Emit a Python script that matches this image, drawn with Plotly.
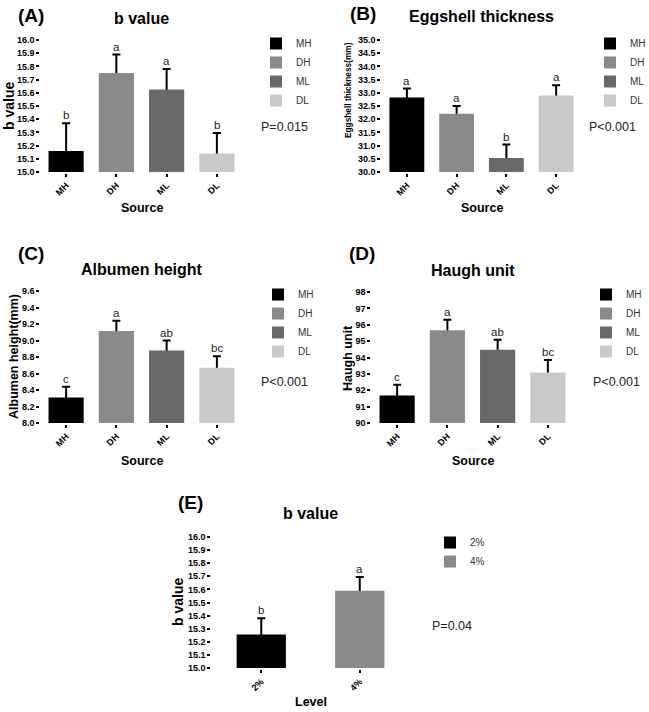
import plotly.graph_objects as go

W, H = 649, 712
FONT = "Liberation Sans, Arial, sans-serif"

# ---------------- data ----------------
sources = ["MH", "DH", "ML", "DL"]
source_colors = ["#000000", "#8a8a8a", "#686868", "#c9c9c9"]

b_value_mean = [15.16, 15.75, 15.625, 15.14]
b_value_err = [0.21, 0.14, 0.155, 0.155]
b_value_letters = ["b", "a", "a", "b"]

shell_mean = [32.82, 32.21, 30.53, 32.9]
shell_err = [0.34, 0.29, 0.51, 0.39]
shell_letters = ["a", "a", "b", "a"]

albumen_mean = [8.31, 9.115, 8.88, 8.67]
albumen_err = [0.13, 0.125, 0.12, 0.14]
albumen_letters = ["c", "a", "ab", "bc"]

haugh_mean = [91.68, 95.66, 94.47, 93.08]
haugh_err = [0.66, 0.65, 0.62, 0.77]
haugh_letters = ["c", "a", "ab", "bc"]

levels = ["2%", "4%"]
level_colors = ["#000000", "#8a8a8a"]
level_b_mean = [15.255, 15.59]
level_b_err = [0.125, 0.105]
level_b_letters = ["b", "a"]

panels = [
    dict(tag="(A)", title="b value", ytitle="b value", xtitle="Source", p="P=0.015",
         cats=sources, colors=source_colors, mean=b_value_mean, err=b_value_err,
         letters=b_value_letters, yrange=[15.0, 16.0], dtick=0.1, fmt=".1f",
         box=(41, 242, 40, 172), bw=0.7, ytitle_xy=(9, 106), ytitle_size=14,
         tag_xy=(16, 15), title_y=18, xtitle_y=208, p_xy=(259, 127), leg_xy=(256, 29)),
    dict(tag="(B)", title="Eggshell thickness", ytitle="Eggshell thickness(mm)", xtitle="Source",
         p="P<0.001", cats=sources, colors=source_colors, mean=shell_mean, err=shell_err,
         letters=shell_letters, yrange=[30.0, 35.0], dtick=0.5, fmt=".1f",
         box=(382, 581, 40, 172), bw=0.7, ytitle_xy=(348, 90), ytitle_size=8.3,
         tag_xy=(348, 14), title_y=17, xtitle_y=208, p_xy=(587, 127), leg_xy=(590, 29)),
    dict(tag="(C)", title="Albumen height", ytitle="Albumen height(mm)", xtitle="Source",
         p="P<0.001", cats=sources, colors=source_colors, mean=albumen_mean, err=albumen_err,
         letters=albumen_letters, yrange=[8.0, 9.6], dtick=0.2, fmt=".1f",
         box=(41, 242, 291, 423), bw=0.7, ytitle_xy=(14, 357), ytitle_size=12.5,
         tag_xy=(16, 253), title_y=269, xtitle_y=461, p_xy=(259, 382), leg_xy=(258, 280)),
    dict(tag="(D)", title="Haugh unit", ytitle="Haugh unit", xtitle="Source",
         p="P<0.001", cats=sources, colors=source_colors, mean=haugh_mean, err=haugh_err,
         letters=haugh_letters, yrange=[90, 98], dtick=1, fmt="d",
         box=(372, 573, 292, 423), bw=0.7, ytitle_xy=(348, 358), ytitle_size=12.5,
         tag_xy=(347, 253), title_y=270, xtitle_y=461, p_xy=(591, 382), leg_xy=(586, 280)),
    dict(tag="(E)", title="b value", ytitle="b value", xtitle="Level",
         p="P=0.04", cats=levels, colors=level_colors, mean=level_b_mean, err=level_b_err,
         letters=level_b_letters, yrange=[15.0, 16.0], dtick=0.1, fmt=".1f",
         box=(212, 409, 537, 668), bw=0.5, ytitle_xy=(178, 602), ytitle_size=14,
         tag_xy=(176, 502), title_y=513, xtitle_y=702, p_xy=(430, 626), leg_xy=(430, 528)),
]


def px(x):
    return x / W


def py(y):
    return 1 - y / H


fig = go.Figure()
annotations = []
layout = {}

for i, p in enumerate(panels):
    n = i + 1
    xa = "x" if n == 1 else f"x{n}"
    ya = "y" if n == 1 else f"y{n}"
    xkey = "xaxis" if n == 1 else f"xaxis{n}"
    ykey = "yaxis" if n == 1 else f"yaxis{n}"
    leg = "legend" if n == 1 else f"legend{n}"
    x0, x1, y0, y1 = p["box"]
    base = p["yrange"][0]

    # error bars (drawn behind the bars so only the upper half shows)
    fig.add_trace(go.Scatter(
        x=p["cats"], y=p["mean"], mode="markers",
        marker=dict(size=1, color="rgba(0,0,0,0)"),
        error_y=dict(type="data", array=p["err"], symmetric=True,
                     color="black", thickness=2, width=4),
        xaxis=xa, yaxis=ya, showlegend=False, hoverinfo="skip", zorder=-1,
    ))
    for c, m, col in zip(p["cats"], p["mean"], p["colors"]):
        fig.add_trace(go.Bar(
            x=[c], y=[m - base], base=base, name=c,
            marker=dict(color=col, line=dict(width=0)),
            width=p["bw"], xaxis=xa, yaxis=ya, legend=leg, zorder=0,
        ))

    layout[xkey] = dict(
        domain=[px(x0), px(x1)], anchor=ya, type="category",
        categoryorder="array", categoryarray=p["cats"],
        range=[-0.5, len(p["cats"]) - 0.5], automargin=False,
        showline=True, linecolor="black", linewidth=1.5,
        ticks="outside", ticklen=3, tickwidth=1.5, tickcolor="black",
        tickangle=-45, tickfont=dict(family=FONT, size=9, color="black", weight="bold"),
        showgrid=False, zeroline=False, fixedrange=True,
    )
    layout[ykey] = dict(
        domain=[py(y1), py(y0)], anchor=xa, range=p["yrange"], automargin=False,
        dtick=p["dtick"], tick0=p["yrange"][0], tickformat=p["fmt"],
        showline=True, linecolor="black", linewidth=1.5,
        ticks="outside", ticklen=3, tickwidth=1.5, tickcolor="black",
        tickfont=dict(family=FONT, size=9, color="black", weight="bold"),
        showgrid=False, zeroline=False, fixedrange=True,
    )
    lx, ly = p["leg_xy"]
    layout[leg] = dict(
        x=px(lx), y=py(ly), xanchor="left", yanchor="top",
        bgcolor="rgba(0,0,0,0)", borderwidth=0,
        font=dict(family=FONT, size=10, color="#333333"),
        itemwidth=30, tracegroupgap=0,
    )

    # significance letters
    for c, m, e, letter in zip(p["cats"], p["mean"], p["err"], p["letters"]):
        annotations.append(dict(
            x=c, y=m + e, xref=xa, yref=ya, text=letter, showarrow=False,
            yanchor="bottom", yshift=0,
            font=dict(family=FONT, size=11.5, color="#1a1a1a"),
        ))
    # panel tag
    tx, ty = p["tag_xy"]
    annotations.append(dict(
        x=px(tx), y=py(ty), xref="paper", yref="paper", text=p["tag"],
        showarrow=False, xanchor="left", yanchor="middle",
        font=dict(family=FONT, size=19, color="black", weight="bold"),
    ))
    # panel title
    annotations.append(dict(
        x=px((x0 + x1) / 2), y=py(p["title_y"]), xref="paper", yref="paper",
        text=p["title"], showarrow=False, xanchor="center", yanchor="middle",
        font=dict(family=FONT, size=16, color="black", weight="bold"),
    ))
    # x title
    annotations.append(dict(
        x=px((x0 + x1) / 2), y=py(p["xtitle_y"]), xref="paper", yref="paper",
        text=p["xtitle"], showarrow=False, xanchor="center", yanchor="middle",
        font=dict(family=FONT, size=12.5, color="black", weight="bold"),
    ))
    # y title
    yx, yy = p["ytitle_xy"]
    annotations.append(dict(
        x=px(yx), y=py(yy), xref="paper", yref="paper",
        text=p["ytitle"], showarrow=False, xanchor="center", yanchor="middle",
        textangle=-90,
        font=dict(family=FONT, size=p["ytitle_size"], color="black", weight="bold"),
    ))
    # p value
    pxv, pyv = p["p_xy"]
    annotations.append(dict(
        x=px(pxv), y=py(pyv), xref="paper", yref="paper", text=p["p"],
        showarrow=False, xanchor="left", yanchor="middle",
        font=dict(family=FONT, size=12.5, color="#222222"),
    ))

fig.update_layout(
    template="none",
    width=W, height=H, margin=dict(l=0, r=0, t=0, b=0, pad=0, autoexpand=False),
    paper_bgcolor="white", plot_bgcolor="white",
    barmode="overlay", showlegend=True, hovermode=False,
    annotations=annotations, **layout,
)

# remove the page's default body margin so the figure fills the window exactly
fig.write_html(
    "out.html",
    config={"displayModeBar": False, "staticPlot": False},
    post_script="document.body.style.margin='0px';document.body.style.overflow='hidden';",
)
